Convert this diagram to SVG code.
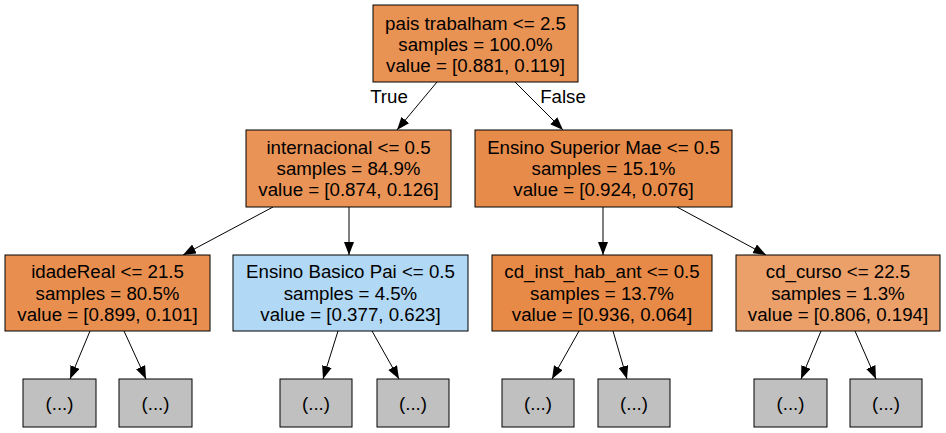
<svg xmlns="http://www.w3.org/2000/svg" width="946" height="433" viewBox="0 0 946 433">
<defs>
<style>
.n rect{stroke:#000;stroke-width:1}
text{font-family:"Liberation Sans",Helvetica,Arial,sans-serif;font-size:18.7px;fill:#000;text-anchor:middle}
.e line{stroke:#000;stroke-width:1;marker-end:url(#ah)}
.leaf rect{fill:#c0c0c0}
</style>
<marker id="ah" viewBox="0 0 13 10" refX="13" refY="5" markerWidth="13" markerHeight="10" markerUnits="userSpaceOnUse" orient="auto">
<path d="M0,0 L13,5 L0,10 z" fill="#000"/>
</marker>
</defs>
<rect width="946" height="433" fill="#fff"/>
<g id="edges" class="e">
<line x1="437" y1="82" x2="397" y2="130"/>
<line x1="515" y1="82" x2="563" y2="130"/>
<line x1="273" y1="207" x2="183" y2="255"/>
<line x1="349" y1="207" x2="349" y2="255"/>
<line x1="603" y1="207" x2="603" y2="255"/>
<line x1="677" y1="207" x2="766" y2="255"/>
<line x1="90" y1="331" x2="70" y2="379"/>
<line x1="124" y1="331" x2="146" y2="379"/>
<line x1="338" y1="331" x2="323" y2="379"/>
<line x1="372" y1="331" x2="399" y2="379"/>
<line x1="579" y1="331" x2="552" y2="379"/>
<line x1="613" y1="331" x2="627" y2="379"/>
<line x1="821" y1="331" x2="801" y2="379"/>
<line x1="855" y1="331" x2="876" y2="379"/>
<text x="389" y="103">True</text>
<text x="563" y="103">False</text>
</g>
<g id="n0" class="n">
<rect x="373" y="5" width="205" height="77" fill="#e89254"/>
<text x="475.5" y="30">pais trabalham &lt;= 2.5</text>
<text x="475.5" y="51">samples = 100.0%</text>
<text x="475.5" y="72">value = [0.881, 0.119]</text>
</g>
<g id="n1" class="n">
<rect x="246" y="130" width="205" height="77" fill="#e99356"/>
<text x="348.5" y="154">internacional &lt;= 0.5</text>
<text x="348.5" y="175">samples = 84.9%</text>
<text x="348.5" y="196">value = [0.874, 0.126]</text>
</g>
<g id="n2" class="n">
<rect x="475" y="130" width="257" height="77" fill="#e78b4a"/>
<text x="603.5" y="154">Ensino Superior Mae &lt;= 0.5</text>
<text x="603.5" y="175">samples = 15.1%</text>
<text x="603.5" y="196">value = [0.924, 0.076]</text>
</g>
<g id="n3" class="n">
<rect x="5" y="255" width="205" height="76" fill="#e88f50"/>
<text x="107.5" y="278">idadeReal &lt;= 21.5</text>
<text x="107.5" y="299.5">samples = 80.5%</text>
<text x="107.5" y="321">value = [0.899, 0.101]</text>
</g>
<g id="n4" class="n">
<rect x="233" y="255" width="235" height="76" fill="#b1d8f5"/>
<text x="350.5" y="278">Ensino Basico Pai &lt;= 0.5</text>
<text x="350.5" y="299.5">samples = 4.5%</text>
<text x="350.5" y="321">value = [0.377, 0.623]</text>
</g>
<g id="n5" class="n">
<rect x="492" y="255" width="220" height="76" fill="#e78a47"/>
<text x="602" y="278">cd_inst_hab_ant &lt;= 0.5</text>
<text x="602" y="299.5">samples = 13.7%</text>
<text x="602" y="321">value = [0.936, 0.064]</text>
</g>
<g id="n6" class="n">
<rect x="736" y="255" width="204" height="76" fill="#eb9f69"/>
<text x="838" y="278">cd_curso &lt;= 22.5</text>
<text x="838" y="299.5">samples = 1.3%</text>
<text x="838" y="321">value = [0.806, 0.194]</text>
</g>
<g id="l1" class="n leaf"><rect x="23" y="379" width="73" height="48"/><text x="59.5" y="410">(...)</text></g>
<g id="l2" class="n leaf"><rect x="119" y="379" width="73" height="48"/><text x="155.5" y="410">(...)</text></g>
<g id="l3" class="n leaf"><rect x="280" y="379" width="72" height="48"/><text x="316" y="410">(...)</text></g>
<g id="l4" class="n leaf"><rect x="377" y="379" width="72" height="48"/><text x="413" y="410">(...)</text></g>
<g id="l5" class="n leaf"><rect x="502" y="379" width="72" height="48"/><text x="538" y="410">(...)</text></g>
<g id="l6" class="n leaf"><rect x="598" y="379" width="72" height="48"/><text x="634" y="410">(...)</text></g>
<g id="l7" class="n leaf"><rect x="754" y="379" width="73" height="48"/><text x="790.5" y="410">(...)</text></g>
<g id="l8" class="n leaf"><rect x="850" y="379" width="72" height="48"/><text x="886" y="410">(...)</text></g>
</svg>
